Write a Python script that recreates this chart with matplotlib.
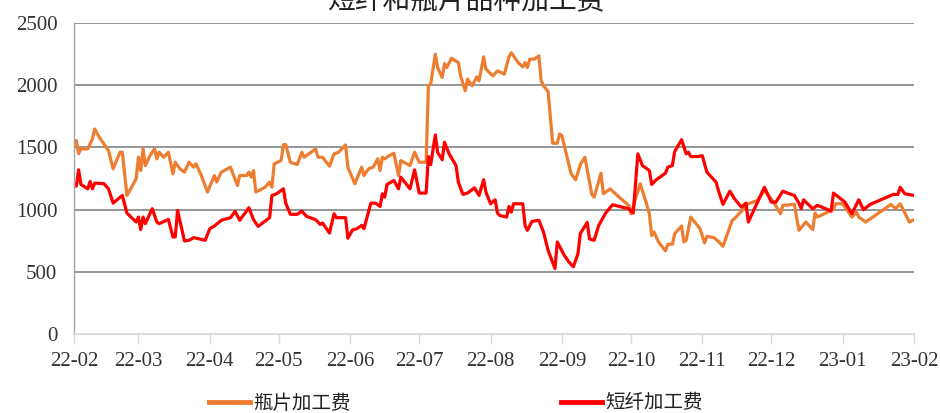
import matplotlib
matplotlib.use("Agg")
import matplotlib.pyplot as plt
import matplotlib.dates as mdates
import pandas as pd

# 瓶片加工费 (bottle-chip processing margin)
chip_dates = [
    "2022-02-01", "2022-02-02", "2022-02-03", "2022-02-04", "2022-02-07", "2022-02-09", "2022-02-10",
    "2022-02-12", "2022-02-14", "2022-02-16", "2022-02-18", "2022-02-21", "2022-02-22", "2022-02-24",
    "2022-02-26", "2022-02-28", "2022-03-01", "2022-03-02", "2022-03-03", "2022-03-04", "2022-03-06",
    "2022-03-08", "2022-03-09", "2022-03-10", "2022-03-12", "2022-03-14", "2022-03-16", "2022-03-17",
    "2022-03-19", "2022-03-21", "2022-03-23", "2022-03-25", "2022-03-26", "2022-03-28", "2022-03-31",
    "2022-04-03", "2022-04-04", "2022-04-06", "2022-04-10", "2022-04-13", "2022-04-14", "2022-04-17",
    "2022-04-18", "2022-04-19", "2022-04-20", "2022-04-21", "2022-04-25", "2022-04-27", "2022-04-28",
    "2022-04-29", "2022-05-02", "2022-05-03", "2022-05-04", "2022-05-06", "2022-05-09", "2022-05-11",
    "2022-05-12", "2022-05-17", "2022-05-18", "2022-05-20", "2022-05-23", "2022-05-25", "2022-05-27",
    "2022-05-30", "2022-05-31", "2022-06-03", "2022-06-06", "2022-06-07", "2022-06-09", "2022-06-11",
    "2022-06-13", "2022-06-14", "2022-06-15", "2022-06-16", "2022-06-18", "2022-06-20", "2022-06-22",
    "2022-06-23", "2022-06-27", "2022-06-29", "2022-07-01", "2022-07-04", "2022-07-05", "2022-07-06",
    "2022-07-08", "2022-07-09", "2022-07-11", "2022-07-12", "2022-07-13", "2022-07-15", "2022-07-18",
    "2022-07-19", "2022-07-21", "2022-07-22", "2022-07-23", "2022-07-24", "2022-07-26", "2022-07-27",
    "2022-07-29", "2022-07-30", "2022-08-02", "2022-08-04", "2022-08-07", "2022-08-09", "2022-08-10",
    "2022-08-13", "2022-08-15", "2022-08-16", "2022-08-17", "2022-08-18", "2022-08-20", "2022-08-22",
    "2022-08-23", "2022-08-24", "2022-08-26", "2022-08-28", "2022-08-30", "2022-08-31", "2022-09-01",
    "2022-09-05", "2022-09-07", "2022-09-09", "2022-09-11", "2022-09-14", "2022-09-15", "2022-09-18",
    "2022-09-19", "2022-09-22", "2022-09-25", "2022-09-30", "2022-10-01", "2022-10-05", "2022-10-08",
    "2022-10-09", "2022-10-10", "2022-10-11", "2022-10-13", "2022-10-16", "2022-10-17", "2022-10-19",
    "2022-10-20", "2022-10-23", "2022-10-24", "2022-10-25", "2022-10-27", "2022-10-31", "2022-11-02",
    "2022-11-03", "2022-11-06", "2022-11-08", "2022-11-10", "2022-11-14", "2022-11-15", "2022-11-21",
    "2022-11-25", "2022-11-28", "2022-12-02", "2022-12-05", "2022-12-06", "2022-12-11", "2022-12-13",
    "2022-12-16", "2022-12-19", "2022-12-20", "2022-12-21", "2022-12-28", "2022-12-29", "2023-01-01",
    "2023-01-05", "2023-01-07", "2023-01-08", "2023-01-11", "2023-01-22", "2023-01-24", "2023-01-26",
    "2023-01-30", "2023-02-01",
]
chip_values = [
    1500, 1555, 1450, 1488, 1488, 1568, 1648,
    1581, 1528, 1474, 1328, 1461, 1461, 1114,
    1180, 1248, 1421, 1314, 1488, 1354, 1434,
    1488, 1408, 1461, 1421, 1461, 1288, 1381,
    1328, 1301, 1381, 1341, 1368, 1288, 1141,
    1274, 1221, 1301, 1341, 1194, 1274, 1274,
    1301, 1261, 1314, 1141, 1180, 1221, 1180,
    1368, 1394, 1522, 1522, 1381, 1362, 1461,
    1421, 1488, 1421, 1421, 1349, 1448, 1461,
    1520, 1341, 1208, 1341, 1274, 1328, 1341,
    1408, 1314, 1421, 1408, 1434, 1453, 1274,
    1394, 1354, 1461, 1381, 1381, 1995, 2009,
    2249, 2142, 2062, 2174, 2142, 2217, 2182,
    2075, 1955, 2049, 2022, 1995, 2067, 2035,
    2228, 2129, 2075, 2115, 2089, 2228, 2260,
    2182, 2147, 2182, 2142, 2209, 2209, 2236,
    2035, 1995, 1950, 1533, 1533, 1608, 1595,
    1288, 1240, 1362, 1421, 1122, 1100, 1293,
    1127, 1167, 1114, 1034, 966, 1208, 1034,
    966, 793, 820, 740, 668, 721, 721,
    807, 868, 740, 753, 940, 847, 732,
    785, 775, 745, 705, 914, 927, 1047,
    1074, 1154, 1060, 967, 1034, 1042, 833,
    900, 839, 972, 940, 1002, 1047, 1047,
    940, 980, 940, 900, 1042, 1007, 1047,
    900, 919,
]

# 短纤加工费 (staple-fibre processing margin)
fibre_dates = [
    "2022-02-01", "2022-02-02", "2022-02-03", "2022-02-04", "2022-02-07", "2022-02-08", "2022-02-09",
    "2022-02-10", "2022-02-14", "2022-02-16", "2022-02-18", "2022-02-22", "2022-02-24", "2022-02-28",
    "2022-03-01", "2022-03-02", "2022-03-03", "2022-03-04", "2022-03-07", "2022-03-09", "2022-03-10",
    "2022-03-14", "2022-03-16", "2022-03-17", "2022-03-18", "2022-03-21", "2022-03-23", "2022-03-25",
    "2022-03-30", "2022-04-01", "2022-04-03", "2022-04-06", "2022-04-10", "2022-04-12", "2022-04-14",
    "2022-04-18", "2022-04-20", "2022-04-22", "2022-04-27", "2022-04-28", "2022-04-30", "2022-05-03",
    "2022-05-04", "2022-05-06", "2022-05-09", "2022-05-11", "2022-05-13", "2022-05-17", "2022-05-19",
    "2022-05-20", "2022-05-23", "2022-05-25", "2022-05-26", "2022-05-30", "2022-05-31", "2022-06-02",
    "2022-06-04", "2022-06-06", "2022-06-07", "2022-06-10", "2022-06-12", "2022-06-14", "2022-06-15",
    "2022-06-16", "2022-06-17", "2022-06-20", "2022-06-22", "2022-06-23", "2022-06-27", "2022-06-29",
    "2022-07-01", "2022-07-04", "2022-07-05", "2022-07-06", "2022-07-08", "2022-07-09", "2022-07-11",
    "2022-07-12", "2022-07-14", "2022-07-17", "2022-07-18", "2022-07-20", "2022-07-22", "2022-07-25",
    "2022-07-27", "2022-07-29", "2022-07-30", "2022-08-01", "2022-08-03", "2022-08-04", "2022-08-05",
    "2022-08-08", "2022-08-09", "2022-08-10", "2022-08-11", "2022-08-15", "2022-08-16", "2022-08-17",
    "2022-08-19", "2022-08-22", "2022-08-24", "2022-08-26", "2022-08-29", "2022-08-30", "2022-09-02",
    "2022-09-04", "2022-09-06", "2022-09-08", "2022-09-09", "2022-09-12", "2022-09-13", "2022-09-15",
    "2022-09-17", "2022-09-20", "2022-09-23", "2022-09-30", "2022-10-02", "2022-10-04", "2022-10-06",
    "2022-10-09", "2022-10-10", "2022-10-12", "2022-10-16", "2022-10-17", "2022-10-19", "2022-10-20",
    "2022-10-23", "2022-10-25", "2022-10-26", "2022-10-27", "2022-10-30", "2022-11-01", "2022-11-03",
    "2022-11-07", "2022-11-08", "2022-11-10", "2022-11-13", "2022-11-15", "2022-11-18", "2022-11-20",
    "2022-11-21", "2022-11-25", "2022-11-28", "2022-12-01", "2022-12-03", "2022-12-06", "2022-12-08",
    "2022-12-11", "2022-12-13", "2022-12-14", "2022-12-15", "2022-12-19", "2022-12-21", "2022-12-23",
    "2022-12-27", "2022-12-28", "2023-01-02", "2023-01-05", "2023-01-08", "2023-01-10", "2023-01-13",
    "2023-01-23", "2023-01-25", "2023-01-26", "2023-01-28", "2023-02-01",
]
fibre_values = [
    1189, 1189, 1320, 1202, 1167, 1226, 1167,
    1213, 1208, 1167, 1052, 1114, 972, 900,
    940, 839, 940, 887, 1007, 900, 887,
    921, 780, 780, 994, 748, 753, 775,
    753, 847, 868, 914, 935, 986, 914,
    1015, 919, 865, 935, 1114, 1127, 1167,
    1052, 962, 962, 988, 946, 919, 881,
    892, 812, 967, 935, 935, 770, 836,
    847, 873, 847, 1052, 1052, 1025, 1127,
    1100, 1202, 1234, 1167, 1261, 1167, 1320,
    1133, 1133, 1426, 1362, 1600, 1461, 1400,
    1541, 1448, 1354, 1221, 1122, 1133, 1175,
    1114, 1240, 1141, 1047, 1079, 972, 953,
    940, 1025, 980, 1047, 1047, 873, 833,
    905, 914, 820, 673, 526, 740, 633,
    580, 540, 647, 807, 897, 764, 753,
    873, 972, 1039, 1007, 972, 1448, 1354,
    1314, 1202, 1240, 1293, 1341, 1354, 1466,
    1562, 1448, 1461, 1426, 1426, 1434, 1301,
    1221, 1154, 1042, 1148, 1087, 1020, 1052,
    900, 1060, 1180, 1060, 1060, 1148, 1133,
    1114, 1052, 1007, 1079, 1007, 1034, 1020,
    988, 1133, 1060, 967, 1079, 999, 1042,
    1122, 1122, 1180, 1127, 1114,
]

title_text = "短纤和瓶片品种加工费"
chip_label = "瓶片加工费"
fibre_label = "短纤加工费"
y_ticks = [0, 500, 1000, 1500, 2000, 2500]

serif = ["Liberation Serif", "Noto Sans CJK SC"]
cjk = ["Noto Sans CJK SC", "DejaVu Sans"]
plt.rcParams["font.family"] = serif

fig = plt.figure(figsize=(9.40, 4.13), dpi=100)
ax = fig.add_axes([74 / 940, 1 - 334 / 413, 840 / 940, 311 / 413])

chip_x = pd.to_datetime(chip_dates)
fibre_x = pd.to_datetime(fibre_dates)
ax.plot(chip_x, chip_values, color="#ED7D31", lw=2.3, label=chip_label, solid_joinstyle="round")
ax.plot(fibre_x, fibre_values, color="#FF0000", lw=2.3, label=fibre_label, solid_joinstyle="round")

ax.set_ylim(0, 2500)
ax.set_yticks(y_ticks)
ax.set_xlim(pd.Timestamp("2022-02-01"), pd.Timestamp("2023-02-01"))
ax.xaxis.set_major_locator(mdates.MonthLocator())
ax.xaxis.set_major_formatter(mdates.DateFormatter("%y-%m"))

for v in y_ticks[1:]:
    ax.axhline(v, color="#8c8c8c", lw=1.3, zorder=0)

for side in ("top", "right"):
    ax.spines[side].set_visible(False)
ax.spines["left"].set_color("#a6a6a6")
ax.spines["left"].set_linewidth(1.0)
ax.spines["bottom"].set_color("#d9d9d9")
ax.spines["bottom"].set_linewidth(1.3)

ax.tick_params(axis="y", length=0, pad=12, labelsize=15, labelcolor="#333333")
ax.tick_params(axis="x", length=7, width=1.0, color="#d9d9d9", pad=6,
               labelsize=15, labelcolor="#333333")

fig.text(467 / 940, 1 - 1.5 / 413, title_text, ha="center", va="center",
         fontsize=20, family=cjk, color="#222222")

leg = fig.legend(loc="center", bbox_to_anchor=(456 / 940, 1 - 403 / 413), ncol=2,
                 frameon=False, handlelength=2.1, handletextpad=0.2,
                 columnspacing=10.8, prop={"family": cjk, "size": 14})
for t in leg.get_texts():
    t.set_color("#222222")
for h in leg.get_lines():
    h.set_linewidth(3.5)

fig.savefig("out.png", dpi=100)
